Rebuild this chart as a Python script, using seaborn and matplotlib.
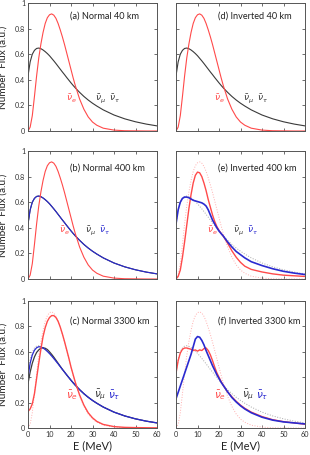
import numpy as np
import matplotlib
matplotlib.use("Agg")
import matplotlib.pyplot as plt
import seaborn as sns

# Energy grid (MeV)
E = [0, 1, 2, 3, 4, 5, 6, 7, 8, 9, 10, 11, 12, 13, 14, 15, 16, 17, 18, 19, 20,
     21, 22, 24, 26, 28, 30, 32, 35, 40, 45, 50, 55, 60]

# original (unoscillated) spectra
nuebar0 = [0, 0.03, 0.12, 0.27, 0.43, 0.57, 0.68, 0.77, 0.84, 0.885, 0.908, 0.915,
           0.905, 0.88, 0.84, 0.79, 0.735, 0.675, 0.61, 0.545, 0.48, 0.415, 0.355,
           0.25, 0.17, 0.11, 0.07, 0.045, 0.022, 0.007, 0.002, 0.001, 0, 0]
nux0 = [0.43, 0.54, 0.60, 0.63, 0.645, 0.648, 0.643, 0.633, 0.62, 0.605, 0.588,
        0.568, 0.548, 0.527, 0.505, 0.483, 0.461, 0.44, 0.418, 0.397, 0.376, 0.356,
        0.337, 0.302, 0.27, 0.242, 0.217, 0.195, 0.165, 0.125, 0.095, 0.072, 0.054, 0.04]

# Normal 3300 km
nuebar_c = [0.13, 0.15, 0.19, 0.27, 0.39, 0.51, 0.62, 0.72, 0.79, 0.84, 0.87, 0.885,
            0.885, 0.87, 0.84, 0.795, 0.74, 0.68, 0.615, 0.55, 0.48, 0.42, 0.36,
            0.26, 0.18, 0.12, 0.08, 0.052, 0.028, 0.011, 0.005, 0.003, 0.002, 0.001]
numu_c = [0.35, 0.44, 0.51, 0.56, 0.595, 0.615, 0.628, 0.632, 0.628, 0.618, 0.60,
          0.58, 0.558, 0.534, 0.51, 0.486, 0.462, 0.44, 0.418, 0.397, 0.376, 0.356,
          0.337, 0.302, 0.27, 0.242, 0.217, 0.195, 0.165, 0.125, 0.095, 0.072, 0.054, 0.04]
nutau_c = [0.40, 0.51, 0.575, 0.612, 0.632, 0.64, 0.638, 0.63, 0.618, 0.603, 0.586,
           0.567, 0.547, 0.526, 0.505, 0.483, 0.461, 0.44, 0.418, 0.397, 0.376, 0.356,
           0.337, 0.302, 0.27, 0.242, 0.217, 0.195, 0.165, 0.125, 0.095, 0.072, 0.054, 0.04]

# Inverted 400 km
nuebar_e = [0, 0.02, 0.07, 0.17, 0.29, 0.42, 0.55, 0.66, 0.75, 0.81, 0.835, 0.83,
            0.80, 0.75, 0.69, 0.62, 0.56, 0.50, 0.45, 0.41, 0.38, 0.355, 0.335,
            0.28, 0.22, 0.17, 0.13, 0.10, 0.075, 0.055, 0.04, 0.03, 0.025, 0.02]
nutau_e = [0.43, 0.54, 0.60, 0.63, 0.64, 0.64, 0.635, 0.625, 0.615, 0.61, 0.605,
           0.60, 0.595, 0.585, 0.57, 0.54, 0.50, 0.46, 0.43, 0.40, 0.375, 0.355,
           0.335, 0.29, 0.25, 0.215, 0.19, 0.165, 0.135, 0.105, 0.08, 0.06, 0.046, 0.035]

# Inverted 3300 km
nuebar_f = [0.43, 0.53, 0.59, 0.62, 0.63, 0.63, 0.625, 0.62, 0.61, 0.615, 0.605,
            0.615, 0.61, 0.625, 0.63, 0.61, 0.575, 0.53, 0.48, 0.435, 0.40, 0.365,
            0.335, 0.285, 0.245, 0.21, 0.18, 0.155, 0.125, 0.09, 0.065, 0.05, 0.04, 0.03]
nutau_f = [0.23, 0.28, 0.33, 0.38, 0.43, 0.48, 0.53, 0.58, 0.64, 0.70, 0.72, 0.715,
           0.69, 0.655, 0.61, 0.57, 0.53, 0.49, 0.455, 0.42, 0.39, 0.36, 0.335,
           0.285, 0.24, 0.205, 0.175, 0.15, 0.12, 0.085, 0.062, 0.048, 0.04, 0.032]

titles = ["(a) Normal 40 km", "(b) Normal 400 km", "(c) Normal 3300 km",
          "(d) Inverted 40 km", "(e) Inverted 400 km", "(f) Inverted 3300 km"]
xticks = [0, 10, 20, 30, 40, 50, 60]
yticks = [0, 0.2, 0.4, 0.6, 0.8, 1]

sns.set_style("ticks")
plt.rcParams['font.family'] = ['Lato', 'DejaVu Sans']
plt.rcParams['mathtext.fontset'] = 'dejavusans'

RED = '#ff4a4a'
BLUE = '#2a2ad0'
BLACK = '#3a3a3a'
LRED = '#ffb0b0'
LGREY = '#a8a8a8'

fig = plt.figure(figsize=(3.10, 4.55), dpi=100)
W, H = 310, 455
cols = [28, 176]
rows = [(3, 131), (151, 279), (301, 428)]
axes = {}
for c, x0 in enumerate(cols):
    for r, (t, b) in enumerate(rows):
        ax = fig.add_axes([x0 / W, 1 - b / H, 129 / W, (b - t) / H])
        axes[(r, c)] = ax


def line(ax, y, color, lw=0.8, ls='-'):
    sns.lineplot(x=E, y=y, ax=ax, color=color, lw=lw, linestyle=ls,
                 sort=False, estimator=None)


# (a)
line(axes[(0, 0)], nux0, BLACK)
line(axes[(0, 0)], nuebar0, RED)
# (b)
line(axes[(1, 0)], nux0, BLACK)
line(axes[(1, 0)], nux0, BLUE)
line(axes[(1, 0)], nuebar0, RED)
# (c)
line(axes[(2, 0)], nuebar0, LRED, lw=0.7, ls=':')
line(axes[(2, 0)], nux0, LGREY, lw=0.7, ls=':')
line(axes[(2, 0)], numu_c, BLACK, lw=0.9)
line(axes[(2, 0)], nutau_c, BLUE, lw=0.9)
line(axes[(2, 0)], nuebar_c, RED, lw=1.0)
# (d)
line(axes[(0, 1)], nux0, BLACK)
line(axes[(0, 1)], nuebar0, RED)
# (e)
line(axes[(1, 1)], nuebar0, LRED, lw=0.7, ls=':')
line(axes[(1, 1)], nux0, LGREY, lw=0.7, ls=':')
line(axes[(1, 1)], nuebar_e, RED, lw=1.0)
line(axes[(1, 1)], nutau_e, BLUE, lw=1.2)
# (f)
line(axes[(2, 1)], nuebar0, LRED, lw=0.7, ls=':')
line(axes[(2, 1)], nux0, LGREY, lw=0.7, ls=':')
line(axes[(2, 1)], nuebar_f, RED, lw=1.0)
line(axes[(2, 1)], nutau_f, BLUE, lw=1.2)

title_y = [0.90, 0.865, 0.845]
label_y = [0.255, 0.375, 0.26]
label_x = [(20.3, 33.5, 40.3), (16.8, 29.0, 35.6), (20.5, 33.6, 40.2)]
tau_col = [BLACK, BLUE, BLUE]

for c in range(2):
    for r in range(3):
        ax = axes[(r, c)]
        ax.set_xlim(0, 60)
        ax.set_ylim(0, 1)
        ax.set_xticks(xticks)
        ax.set_yticks(yticks)
        ax.tick_params(direction='in', length=2.5, width=0.5, top=True, right=True,
                       labelsize=5.2, pad=2, colors='#333333')
        for s in ax.spines.values():
            s.set_color('#555555')
            s.set_linewidth(0.7)
        ax.set_xlabel('')
        ax.set_ylabel('')
        if c == 0:
            ax.set_yticklabels(['0', '0.2', '0.4', '0.6', '0.8', '1'])
            ax.set_ylabel('Number  Flux (a.u.)', fontsize=7.2, color='#222222')
            ax.yaxis.set_label_coords(-0.155, 0.5)
        else:
            ax.set_yticklabels([])
        if r == 2:
            ax.set_xticklabels([str(v) for v in xticks])
            ax.set_xlabel('E (MeV)', fontsize=8, color='#222222')
            ax.xaxis.set_label_coords(0.5, -0.095)
        else:
            ax.set_xticklabels([])
        ax.text(19.5, title_y[r], titles[c * 3 + r], fontsize=6.6, ha='left',
                va='center', color='#222222')
        fs = 6.6 if r < 2 else 7.6
        lx = label_x[r]
        ax.text(lx[0], label_y[r], r'$\bar{\nu}_e$', color=RED, fontsize=fs,
                ha='center', va='center')
        ax.text(lx[1], label_y[r], r'$\bar{\nu}_\mu$', color=BLACK, fontsize=fs,
                ha='center', va='center')
        ax.text(lx[2], label_y[r], r'$\bar{\nu}_\tau$', color=tau_col[r], fontsize=fs,
                ha='center', va='center')

fig.savefig('out.png', dpi=100)
